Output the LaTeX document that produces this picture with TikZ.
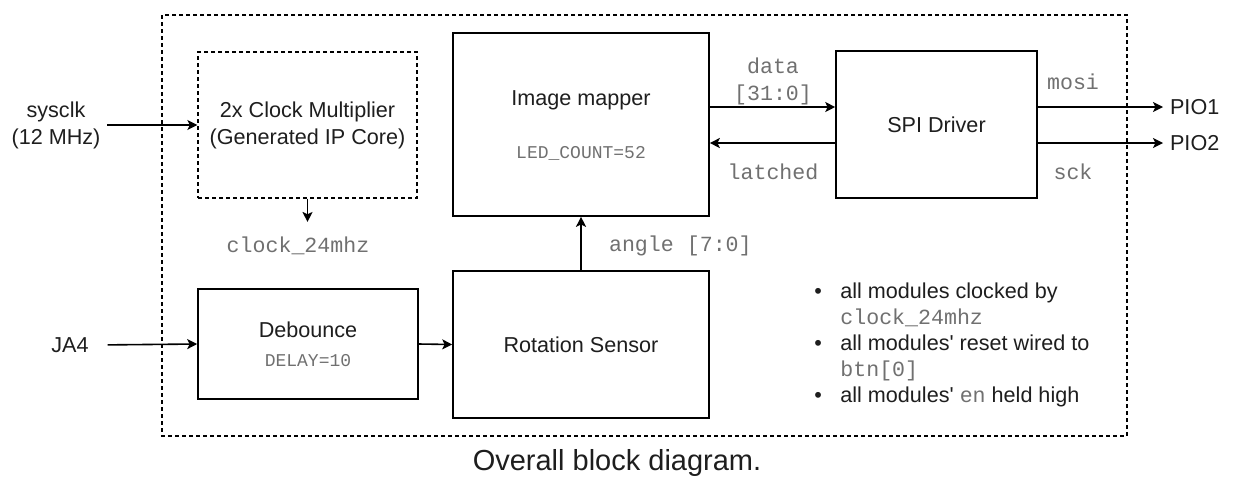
\documentclass[tikz,border=0pt]{standalone}
\usepackage{fontspec}
\setmainfont{Liberation Sans}
\setmonofont{Liberation Mono}
\usetikzlibrary{positioning, arrows.meta}
\definecolor{inkgray}{HTML}{1E1E1E}
\definecolor{codegray}{HTML}{707070}
\newcommand{\code}[1]{{\ttfamily\color{codegray}#1}}
\tikzset {
    >={Stealth[length=5pt, width=5pt, inset=1.2pt]},
    every node/.style={font=\fontsize{10.8}{13.5}\selectfont, text=inkgray},
    block/.style={draw, line width=0.8pt, inner sep=0pt},
    ip/.style={block, line width=0.65pt, dash pattern=on 2pt off 1.5pt},
    sig/.style={->, line width=0.8pt},
    frame/.style={line width=0.65pt, dash pattern=on 2pt off 1.5pt}
}

\begin{document}
\begin{tikzpicture}[x=0.5pt, y=-0.5pt]
    \useasboundingbox (0,0) rectangle (1234,483);
    \draw[frame] (162,15) rectangle (1127,436);

    \node[ip, minimum width=109.5pt, minimum height=73pt, align=center] (clk) at (307.5,125) {2x Clock Multiplier\\(Generated IP Core)};
    \node[block, minimum width=128pt, minimum height=91.5pt] (map) at (581,124.5) {};
    \node[block, minimum width=100.5pt, minimum height=73.5pt] (spi) at (936.5,124.5) {SPI Driver};
    \node[block, minimum width=110pt, minimum height=55pt, align=center] (deb) at (308,344) {Debounce\\[1pt]\code{\fontsize{9}{11}\selectfont DELAY=10}};
    \node[block, minimum width=128pt, minimum height=73.5pt] (rot) at (581,344.5) {Rotation Sensor};

    \node (maptitle) at (581,100) {Image mapper};
    \node (ledcount) at (581,153) {\code{\fontsize{9}{11}\selectfont LED\_COUNT=52}};

    \node[align=center] (sys) at (56,125) {sysclk\\(12 MHz)};
    \node (ja) at (70,345) {JA4};
    \node[anchor=west] (pio1) at (1163,107) {PIO1};
    \node[anchor=west] (pio2) at (1163,143) {PIO2};

    \node (clk24) at (298,246) {\code{clock\_24mhz}};
    \node[align=center] (dat) at (773,81) {\code{data}\\\code{[31:0]}};
    \node (lat) at (773,172) {\code{latched}};
    \node (mosi) at (1073,82) {\code{mosi}};
    \node (sck) at (1073,172) {\code{sck}};
    \node[anchor=west] (ang) at (602,246) {\code{angle [7:0]}};

    \draw[sig] (sys.east) -- (clk.west);
    \draw[sig, shorten >=4pt] (clk.south) -- (clk.south |- clk24.north);
    \draw[sig, shorten <=6pt] (ja.east) -- (deb.west);
    \draw[sig] (deb.east) -- (rot.west);
    \draw[sig] (rot.north) -- (map.south);
    \draw[sig] ([yshift=8.75pt]map.east) -- ([yshift=8.75pt]spi.west);
    \draw[sig] ([yshift=-9.25pt]spi.west) -- ([yshift=-9.25pt]map.east);
    \draw[sig] ([yshift=8.75pt]spi.east) -- (pio1.west);
    \draw[sig] ([yshift=-9.25pt]spi.east) -- (pio2.west);

    \node[anchor=north west, inner sep=0pt, font=\fontsize{10.8}{13}\selectfont] (notes) at (814,280) {%
        \begin{tabular}{@{}l@{\hspace{9.2pt}}l@{}}
        \textbullet & all modules clocked by\\
                    & \code{clock\_24mhz}\\
        \textbullet & all modules\textquotesingle\ reset wired to\\
                    & \code{btn[0]}\\
        \textbullet & all modules\textquotesingle\ \code{en} held high
        \end{tabular}};

    \node[font=\fontsize{14.5}{17}\selectfont] (caption) at (617,463) {Overall block diagram.};
\end{tikzpicture}
\end{document}
